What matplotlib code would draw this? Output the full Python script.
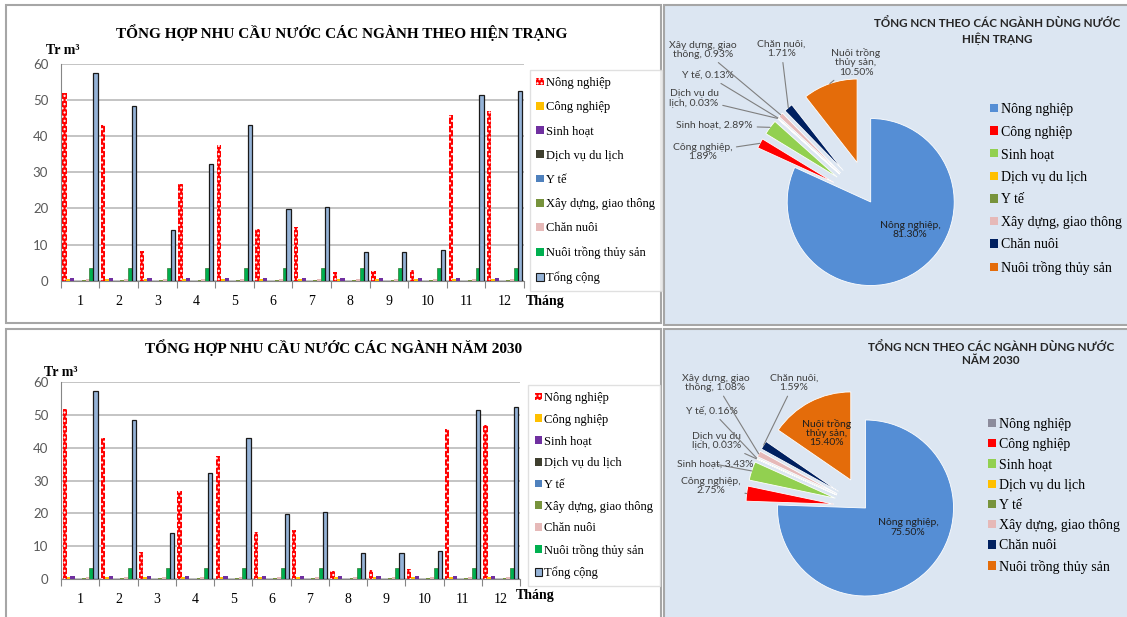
import numpy as np
import matplotlib
matplotlib.use("Agg")
import matplotlib.pyplot as plt
from matplotlib.patches import Rectangle, Patch

# ---- data ----
months = [1, 2, 3, 4, 5, 6, 7, 8, 9, 10, 11, 12]
nong_nghiep = [51.9, 43.1, 8.3, 26.7, 37.6, 14.2, 14.9, 2.5, 2.6, 3.0, 45.9, 47.1]
cong_nghiep = [0.6, 0.6, 0.6, 0.6, 0.6, 0.6, 0.6, 0.6, 0.6, 0.6, 0.6, 0.6]
sinh_hoat = [0.8, 0.8, 0.8, 0.8, 0.8, 0.8, 0.8, 0.8, 0.8, 0.8, 0.8, 0.8]
dich_vu = [0.01, 0.01, 0.01, 0.01, 0.01, 0.01, 0.01, 0.01, 0.01, 0.01, 0.01, 0.01]
y_te = [0.05, 0.05, 0.05, 0.05, 0.05, 0.05, 0.05, 0.05, 0.05, 0.05, 0.05, 0.05]
xay_dung = [0.3, 0.3, 0.3, 0.3, 0.3, 0.3, 0.3, 0.3, 0.3, 0.3, 0.3, 0.3]
chan_nuoi = [0.5, 0.5, 0.5, 0.5, 0.5, 0.5, 0.5, 0.5, 0.5, 0.5, 0.5, 0.5]
nuoi_trong = [3.4, 3.4, 3.4, 3.4, 3.4, 3.4, 3.4, 3.4, 3.4, 3.4, 3.4, 3.4]
tong_cong = [57.4, 48.4, 13.9, 32.2, 43.0, 19.8, 20.4, 8.0, 7.9, 8.5, 51.4, 52.5]

sectors = ["Nông nghiệp", "Công nghiệp", "Sinh hoạt", "Dịch vụ du lịch", "Y tế",
           "Xây dựng, giao thông", "Chăn nuôi", "Nuôi trồng thủy sản"]
pct_hien_trang = [81.30, 1.89, 2.89, 0.03, 0.13, 0.93, 1.71, 10.50]
pct_2030 = [75.50, 2.75, 3.43, 0.03, 0.16, 1.08, 1.59, 15.40]

label_fmt = ["Nông nghiệp,\n{:.2f}%", "Công nghiệp,\n{:.2f}%", "Sinh hoạt, {:.2f}%",
             "Dịch vụ du\nlịch, {:.2f}%", "Y tế, {:.2f}%", "Xây dựng, giao\nthông, {:.2f}%",
             "Chăn nuôi,\n{:.2f}%", "Nuôi trồng\nthủy sản,\n{:.2f}%"]

bar_series = [nong_nghiep, cong_nghiep, sinh_hoat, dich_vu, y_te, xay_dung,
              chan_nuoi, nuoi_trong, tong_cong]
bar_names = sectors + ["Tổng cộng"]
bar_colors = ["#FF0000", "#FFC000", "#7030A0", "#3F3F2F", "#4F81BD", "#77933C",
              "#E6B9B8", "#00B050", "#95B3D7"]
pie_colors = ["#558ED5", "#FF0000", "#92D050", "#FFC000", "#77933C", "#E6B9B8",
              "#002060", "#E46C0A"]

W, H = 1127, 617
SERIF = "Liberation Serif"
SANS = "Lato"
fig = plt.figure(figsize=(W / 100, H / 100), dpi=100)
fig.patch.set_facecolor("white")


def frac(x0, y0, x1, y1):
    return [x0 / W, 1 - y1 / H, (x1 - x0) / W, (y1 - y0) / H]


def panel(x0, y0, x1, y1, fc):
    fig.add_artist(Rectangle((x0 / W, 1 - y1 / H), (x1 - x0) / W, (y1 - y0) / H,
                             transform=fig.transFigure, facecolor=fc,
                             edgecolor="#A6A6A6", lw=1.5, zorder=-10))


def ftext(x, y, s, **kw):
    fig.text(x / W, 1 - y / H, s, ha="center", va="center", **kw)


panel(6, 5, 661, 323, "white")
panel(664, 5, 1132, 325, "#DCE6F2")
panel(6, 329, 661, 625, "white")
panel(664, 329, 1132, 625, "#DCE6F2")


def bar_chart(box, leg_xy, leg_ls, title, title_xy, unit_xy, thang_xy):
    ax = fig.add_axes(frac(*box))
    ax.set_facecolor("none")
    x = np.arange(len(months))
    for i, vals in enumerate(bar_series):
        kw = dict(color=bar_colors[i], width=0.11, linewidth=0, zorder=3)
        if i == 0:
            kw.update(edgecolor="white", hatch="....")
        elif i == 8:
            kw.update(edgecolor="#1A1A1A", linewidth=0.9)
        elif i == 7:
            kw.update(edgecolor="#2E7D32", linewidth=0.5)
        ax.bar(x + (i - 4) * 0.1, vals, **kw)
    ax.set_xlim(-0.5, 11.5)
    ax.set_ylim(0, 60)
    ax.set_yticks(range(0, 61, 10))
    ax.yaxis.grid(True, color="#BFBFBF", lw=1.3)
    ax.set_axisbelow(True)
    ax.set_xticks(np.arange(-0.5, 12, 1))
    ax.set_xticklabels([])
    ax.set_xticks(x, minor=True)
    ax.set_xticklabels([str(m) for m in months], minor=True, family=SERIF, fontsize=10)
    ax.tick_params(axis="x", which="major", length=5, color="#868686")
    ax.tick_params(axis="x", which="minor", length=0, pad=10)
    ax.tick_params(axis="y", length=0, pad=9, labelcolor="#595959")
    for lab in ax.get_yticklabels():
        lab.set_family(SANS)
        lab.set_fontsize(9.5)
    for s in ["top", "right"]:
        ax.spines[s].set_visible(False)
    for s in ["left", "bottom"]:
        ax.spines[s].set_color("#868686")
    handles = []
    for i, c in enumerate(bar_colors):
        if i == 0:
            handles.append(Patch(facecolor=c, edgecolor="white", hatch="....", lw=0))
        elif i == 8:
            handles.append(Patch(facecolor=c, edgecolor="#1A1A1A", lw=0.8))
        else:
            handles.append(Patch(facecolor=c, edgecolor="none"))
    leg = ax.legend(handles, bar_names, loc="upper left",
                    bbox_to_anchor=(leg_xy[0] / W, 1 - leg_xy[1] / H),
                    bbox_transform=fig.transFigure, prop={"family": SERIF, "size": 9},
                    fancybox=False, edgecolor="#D9D9D9", handlelength=0.6,
                    handleheight=0.6, handletextpad=0.15, labelspacing=leg_ls,
                    borderpad=0.55, borderaxespad=0)
    leg.get_frame().set_linewidth(1)
    ftext(*title_xy, title, family=SERIF, fontweight="bold", fontsize=11)
    ftext(*unit_xy, "Tr m³", family=SERIF, fontweight="bold", fontsize=10)
    ftext(*thang_xy, "Tháng", family=SERIF, fontweight="bold", fontsize=10)


bar_chart((60.7, 64, 524, 280.7), (529.5, 70), 0.98,
          "TỔNG HỢP NHU CẦU NƯỚC CÁC NGÀNH THEO HIỆN TRẠNG", (342, 33), (63, 50), (545, 302))
bar_chart((61, 382.3, 520, 579), (528, 385), 0.78,
          "TỔNG HỢP NHU CẦU NƯỚC CÁC NGÀNH NĂM 2030", (334, 348), (61, 372), (535, 596))


def pie_chart(box, pcts, center, radius, expl, label_pos, leader, inside_col,
              legend_first, leg_xy, leg_ls, title_lines):
    ax = fig.add_axes(frac(*box))
    cx, cy = center
    # pie() offsets exploded wedges in data units, so scale by the radius
    wedges, _ = ax.pie(pcts, colors=pie_colors, startangle=90, counterclock=False,
                       explode=[0] + [expl * radius] * (len(pcts) - 1),
                       center=(cx, H - cy), radius=radius,
                       wedgeprops=dict(edgecolor="white", linewidth=0.6))
    ax.set_aspect("auto")
    ax.set_xlim(box[0], box[2])
    ax.set_ylim(H - box[3], H - box[1])
    ax.axis("off")
    for i, w in enumerate(wedges):
        s = label_fmt[i].format(pcts[i])
        lx, ly = label_pos[i]
        col = inside_col if not leader[i] else "#404040"
        if leader[i]:
            mid = np.deg2rad((w.theta1 + w.theta2) / 2)
            anchor = (w.center[0] + w.r * np.cos(mid), w.center[1] + w.r * np.sin(mid))
            ax.annotate(s, xy=anchor, xytext=(lx, H - ly), ha="center", va="center",
                        family=SANS, fontsize=7.5, color=col, linespacing=1.05,
                        arrowprops=dict(arrowstyle="-", color="#7F7F7F", lw=0.8,
                                        shrinkA=1, shrinkB=0))
        else:
            ax.text(lx, H - ly, s, ha="center", va="center", family=SANS,
                    fontsize=7.5, color=col, linespacing=1.05)
    handles = [Patch(facecolor=c, edgecolor="none") for c in pie_colors]
    handles[0] = Patch(facecolor=legend_first, edgecolor="none")
    ax.legend(handles, sectors, loc="upper left",
              bbox_to_anchor=(leg_xy[0] / W, 1 - leg_xy[1] / H),
              bbox_transform=fig.transFigure, prop={"family": SERIF, "size": 10},
              frameon=False, handlelength=0.55, handleheight=0.55,
              handletextpad=0.25, labelspacing=leg_ls, borderpad=0, borderaxespad=0)
    for line, (tx, ty) in title_lines.items():
        ftext(tx, ty, line, family=SANS, fontweight="bold", fontsize=8.4, color="#262626")


pie_chart((664, 5, 1127, 325), pct_hien_trang, (870.7, 202), 83.5, 0.5,
          [(910, 230), (702.5, 152), (714.7, 125.7), (694, 98.5), (707.5, 75.3),
           (703, 49.7), (781.3, 49.2), (856, 62.3)],
          [False, True, True, True, True, True, True, True], "#1F1F1F",
          "#558ED5", (990, 103), 0.69,
          {"TỔNG NCN THEO CÁC NGÀNH DÙNG NƯỚC": (997.5, 23), "HIỆN TRẠNG": (997.5, 39)})
pie_chart((664, 329, 1127, 617), pct_2030, (865.5, 508), 88, 0.36,
          [(908.3, 527.5), (711, 486), (715.7, 464.3), (717, 441), (712, 411),
           (715.5, 383), (794, 383), (826.7, 433)],
          [False, True, True, True, True, True, True, False], "#1F1F1F",
          "#8C8C9C", (988, 418), 0.52,
          {"TỔNG NCN THEO CÁC NGÀNH DÙNG NƯỚC": (991, 346.7), "NĂM 2030": (991, 361)})

fig.savefig("out.png", dpi=100)
